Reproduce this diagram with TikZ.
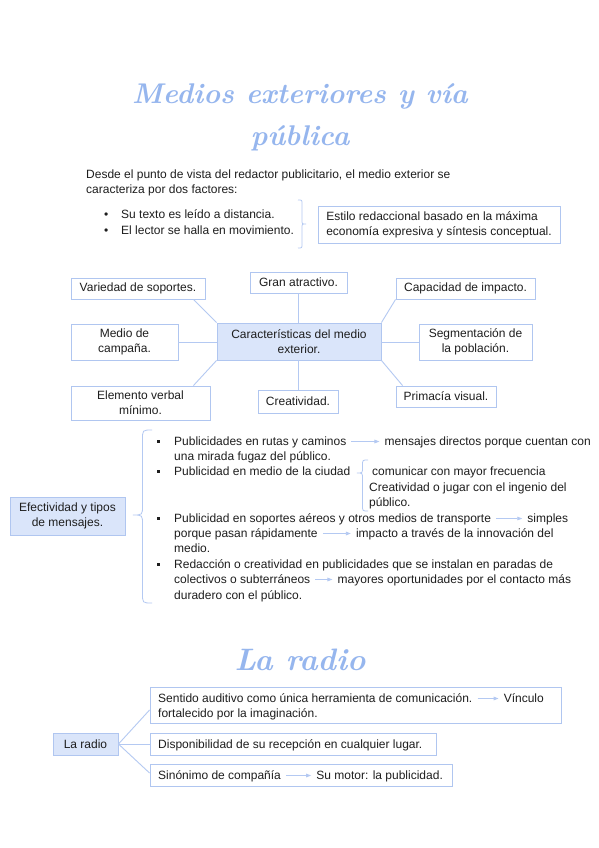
\documentclass[tikz,border=0pt]{standalone}
\usepackage{fontspec}
\newfontfamily\bodyfont{Liberation Sans}
\usetikzlibrary{arrows.meta,calc}
\definecolor{ttl}{RGB}{150,182,238}
\definecolor{bd}{RGB}{176,198,240}
\definecolor{fl}{RGB}{218,229,250}
\definecolor{ln}{RGB}{180,201,242}
\definecolor{tx}{RGB}{30,30,30}
\begin{document}
\begin{tikzpicture}[x=1pt,y=-1pt,
  every node/.style={font=\bodyfont\fontsize{12}{15}\selectfont, text=tx},
  box/.style={draw=bd, line width=0.9pt, inner sep=2pt, align=center},
  fbox/.style={box, fill=fl},
  txt/.style={anchor=base west, inner sep=0pt},
  link/.style={draw=ln, line width=0.9pt},
  arr/.style={draw=ln, line width=0.9pt, -{Triangle[length=5pt,width=3.6pt]}, shorten <=5pt, shorten >=5pt},
  sq/.style={fill=tx, minimum size=3pt, inner sep=0pt},
  brc/.style={draw=ln, line width=0.8pt},
  ttlfont/.style={font=\fontsize{28.5}{34}\selectfont\bfseries\itshape, text=ttl, inner sep=0pt, anchor=base}
]
\fill[white] (0,0) rectangle (599,848);
\useasboundingbox (0,0) rectangle (599,848);

% ---- title
\node[ttlfont] (t1) at (300,103) {Medios exteriores y vía};
\node[ttlfont] (t2) at (300,145) {pública};

% ---- intro
\node[txt] (i1) at (86,178) {Desde el punto de vista del redactor publicitario, el medio exterior se};
\node[txt] (i2) at (86,193) {caracteriza por dos factores:};
\node[txt] (b1) at (104,218) {•};
\node[txt] (b2) at (104,234) {•};
\node[txt] (i3) at (121,218) {Su texto es leído a distancia.};
\node[txt] (i4) at (121,234) {El lector se halla en movimiento.};
\draw[brc] (298,200) .. controls (302,200) .. (302,204) -- (302,220) .. controls (302,224) .. (306,224) .. controls (302,224) .. (302,228) -- (302,244) .. controls (302,248) .. (298,248);
\node[box, align=left, minimum width=242pt, minimum height=37pt] (estilo) at (439,224.5)
  {Estilo redaccional basado en la máxima\\economía expresiva y síntesis conceptual.};

% ---- mind map
\node[fbox, minimum width=164pt, minimum height=37pt] (cen) at (299,341.5) {Características del medio\\exterior.};
\node[box, minimum width=97pt, minimum height=21pt] (gran) at (298.5,282.5) {Gran atractivo.};
\node[box, minimum width=134pt, minimum height=21pt] (var) at (138,288.5) {Variedad de soportes.};
\node[box, minimum width=139pt, minimum height=21pt] (cap) at (465.5,288.5) {Capacidad de impacto.};
\node[box, minimum width=107pt, minimum height=36pt] (med) at (124.5,342) {Medio de\\campaña.};
\node[box, minimum width=113pt, minimum height=36pt] (seg) at (475.5,342) {Segmentación de\\la población.};
\node[box, minimum width=139pt, minimum height=34pt] (ele) at (140.5,403) {Elemento verbal\\mínimo.};
\node[box, minimum width=80pt, minimum height=23pt] (cre) at (298,401.5) {Creatividad.};
\node[box, minimum width=100pt, minimum height=21pt] (pri) at (446,396.5) {Primacía visual.};
\draw[link] ($(var.south east)+(-12,0)$) -- (cen.north west);
\draw[link] (gran.south) -- (gran.south |- cen.north);
\draw[link] (cap.south west) -- (cen.north east);
\draw[link] (med.east) -- (med.east -| cen.west);
\draw[link] (seg.west -| cen.east) -- (seg.west);
\draw[link] (cen.south west) -- ($(ele.north east)+(-17,0)$);
\draw[link] (cre.north |- cen.south) -- (cre.north);
\draw[link] (cen.south east) -- ($(pri.north west)+(7,0)$);

% ---- efectividad
\node[fbox, minimum width=115pt, minimum height=38pt] (efe) at (67.5,516) {Efectividad y tipos\\de mensajes.};
\draw[brc] (152,430) .. controls (142.5,430) .. (142.5,439.5) -- (142.5,505.5) .. controls (142.5,515) .. (133,515) .. controls (142.5,515) .. (142.5,524.5) -- (142.5,593.5) .. controls (142.5,603) .. (152,603);

\node[sq] (s1) at (158,441) {};
\node[sq] (s2) at (158,471) {};
\node[sq] (s3) at (158,518) {};
\node[sq] (s4) at (158,564) {};

\node[txt] (e1a) at (174,445) {Publicidades en rutas y caminos};
\node[txt] (e1b) at ($(e1a.base east)+(38,0)$) {mensajes directos porque cuentan con};
\node[txt] (e1c) at (174,460) {una mirada fugaz del público.};
\draw[arr] ($(e1a.base east)+(0,-3.5)$) -- ($(e1b.base west)+(0,-3.5)$);

\node[txt] (e2a) at (174,475) {Publicidad en medio de la ciudad};
\draw[brc] (368,460) .. controls (362.5,460) .. (362.5,465.5) -- (362.5,467.5) .. controls (362.5,473) .. (357,473) .. controls (362.5,473) .. (362.5,478.5) -- (362.5,505.5) .. controls (362.5,511) .. (368,511);
\node[txt] (e2b) at (372,475) {comunicar con mayor frecuencia};
\node[txt] (e2c) at (369,491) {Creatividad o jugar con el ingenio del};
\node[txt] (e2d) at (369,506) {público.};

\node[txt] (e3a) at (174,522) {Publicidad en soportes aéreos y otros medios de transporte};
\node[txt] (e3b) at ($(e3a.base east)+(36,0)$) {simples};
\draw[arr] ($(e3a.base east)+(0,-3.5)$) -- ($(e3b.base west)+(0,-3.5)$);
\node[txt] (e3c) at (174,537) {porque pasan rápidamente};
\node[txt] (e3d) at ($(e3c.base east)+(38,0)$) {impacto a través de la innovación del};
\draw[arr] ($(e3c.base east)+(0,-3.5)$) -- ($(e3d.base west)+(0,-3.5)$);
\node[txt] (e3e) at (174,552) {medio.};

\node[txt] (e4a) at (174,568) {Redacción o creatividad en publicidades que se instalan en paradas de};
\node[txt] (e4b) at (174,583) {colectivos o subterráneos};
\node[txt] (e4c) at ($(e4b.base east)+(27,0)$) {mayores oportunidades por el contacto más};
\draw[arr] ($(e4b.base east)+(0,-3.5)$) -- ($(e4c.base west)+(0,-3.5)$);
\node[txt] (e4d) at (174,599) {duradero con el público.};

% ---- la radio
\node[ttlfont, font=\fontsize{31}{36}\selectfont\bfseries\itshape] (t3) at (300,670) {La radio};
\node[fbox, minimum width=65pt, minimum height=22pt] (lr) at (85.5,744) {La radio};
\node[box, minimum width=411pt, minimum height=36pt] (r1) at (355.5,705) {};
\node[box, minimum width=286pt, minimum height=22pt] (r2) at (293,744) {};
\node[box, minimum width=302pt, minimum height=22pt] (r3) at (301,775) {};
\node[txt] (r1a) at (158,702) {Sentido auditivo como única herramienta de comunicación.};
\node[txt] (r1b) at ($(r1a.base east)+(31,0)$) {Vínculo};
\draw[arr] ($(r1a.base east)+(0,-3.5)$) -- ($(r1b.base west)+(0,-3.5)$);
\node[txt] (r1c) at (158,717) {fortalecido por la imaginación.};
\node[txt] (r2a) at (158,748) {Disponibilidad de su recepción en cualquier lugar.};
\node[txt] (r3a) at (158,779) {Sinónimo de compañía};
\node[txt] (r3b) at ($(r3a.base east)+(35,0)$) {Su motor: la publicidad.};
\draw[arr] ($(r3a.base east)+(0,-3.5)$) -- ($(r3b.base west)+(0,-3.5)$);
\draw[link] (lr.east) -- ($(r1.west)+(0,5)$);
\draw[link] (lr.east) -- (r2.west);
\draw[link] (lr.east) -- ($(r3.west)+(0,-2)$);
\end{tikzpicture}
\end{document}
